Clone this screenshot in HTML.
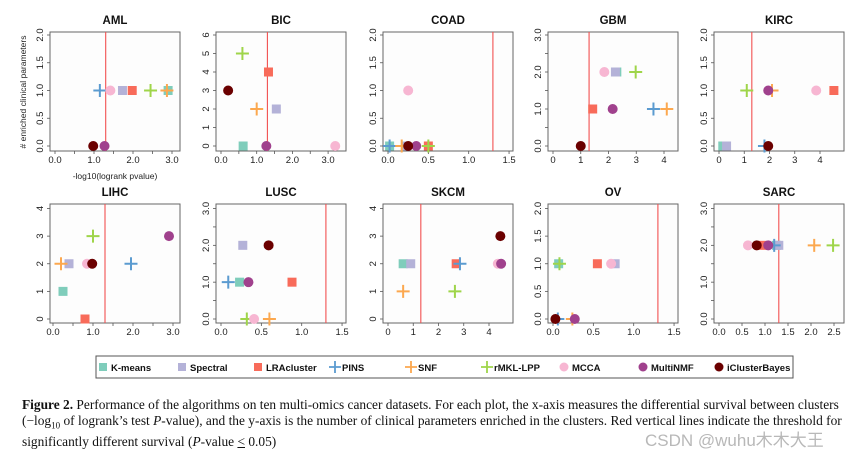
<!DOCTYPE html>
<html><head><meta charset="utf-8">
<style>
html,body{margin:0;padding:0;background:#fff;width:859px;height:456px;overflow:hidden}
svg{position:absolute;left:0;top:0}
.cap{position:absolute;left:22px;top:397px;width:830px;font-family:"Liberation Serif",serif;font-size:13.4px;line-height:15.6px;color:#111;white-space:nowrap}
.wm{position:absolute;left:645px;top:426px;font-family:"Liberation Sans","Noto Sans CJK SC",sans-serif;font-size:17px;color:#b8b8b8}
</style></head>
<body>
<svg id="fig" width="859" height="456"></svg>
<div class="cap"><b>Figure 2.</b> Performance of the algorithms on ten multi-omics cancer datasets. For each plot, the x-axis measures the differential survival between clusters<br>(−log<sub style="font-size:9px">10</sub> of logrank’s test <i>P</i>-value), and the y-axis is the number of clinical parameters enriched in the clusters. Red vertical lines indicate the threshold for<br>significantly different survival (<i>P</i>-value <u>&lt;</u> 0.05)</div>
<div class="wm">CSDN @wuhu木木大王</div>
<script>
const methods=["K-means","Spectral","LRAcluster","PINS","SNF","rMKL-LPP","MCCA","MultiNMF","iClusterBayes"];
const colors=["#7fcdbb","#b4b2d8","#f86b5a","#5b9bd0","#fca84f","#9fd54a","#f7b6d2","#a0418d","#6b0000"];
const shapes=["sq","sq","sq","plus","plus","plus","ci","ci","ci"];
const datasets=["AML","BIC","COAD","GBM","KIRC","LIHC","LUSC","SKCM","OV","SARC"];
const yMax=[2,6,2,3,2,4,3,4,2,3];
const xVals=[
[2.9,1.73,1.98,1.15,2.87,2.45,1.42,1.27,0.98],
[0.62,1.55,1.33,null,1.0,0.6,3.2,1.27,0.2],
[0.02,0.22,0.5,0.02,0.17,0.5,0.25,0.35,0.25],
[2.3,2.25,1.43,3.62,4.1,2.98,1.85,2.15,1.0],
[0.15,0.3,4.55,1.8,2.1,1.1,3.85,1.95,1.95],
[0.25,0.4,0.8,1.95,0.2,1.0,0.85,2.9,0.98],
[0.23,0.27,0.88,0.09,0.6,0.32,0.41,0.34,0.59],
[0.6,0.9,2.7,2.85,0.6,2.65,4.35,4.48,4.45],
[0.07,0.77,0.55,0.06,0.24,0.08,0.72,0.27,0.03],
[1.25,1.3,0.95,1.2,2.07,2.48,0.63,1.07,0.82]];
const yVals=[
[1,1,1,1,1,1,1,0,0],
[0,2,4,0,2,5,0,0,3],
[0,0,0,0,0,0,1,0,0],
[2,2,1,1,1,2,2,1,0],
[0,0,1,0,1,1,1,1,0],
[1,2,0,2,2,3,2,3,2],
[1,2,1,1,0,0,0,1,2],
[2,2,2,2,1,1,2,2,3],
[1,1,1,0,0,1,1,0,0],
[2,2,2,2,2,2,2,2,2]];
const xTickLabels=[
["0.0","1.0","2.0","3.0"],["0.0","1.0","2.0","3.0"],["0.0","0.5","1.0","1.5"],["0","1","2","3","4"],["0","1","2","3","4"],
["0.0","1.0","2.0","3.0"],["0.0","0.5","1.0","1.5"],["0","1","2","3","4"],["0.0","0.5","1.0","1.5"],["0.0","0.5","1.0","1.5","2.0","2.5"]];
const yTickLabels=[
["0.0","0.5","1.0","1.5","2.0"],["0","1","2","3","4","5","6"],["0.0","0.5","1.0","1.5","2.0"],["0.0","1.0","2.0","3.0"],["0.0","0.5","1.0","1.5","2.0"],
["0","1","2","3","4"],["0.0","1.0","2.0","3.0"],["0","1","2","3","4"],["0.0","0.5","1.0","1.5","2.0"],["0.0","1.0","2.0","3.0"]];
const threshold=1.3;
const boxL=[50,216,383,548,714,50,216,383,548,714];
const px0=[55,221,388,553,719,53,221,388,553,719];
const ppu=[39,35.7,80.7,27.75,25.25,40,80.7,25.25,80.7,46];
const NS="http://www.w3.org/2000/svg";
const svg=document.getElementById('fig');
function mk(t,a,p){const e=document.createElementNS(NS,t);for(const k in a)e.setAttribute(k,a[k]);(p||svg).appendChild(e);return e;}
function marker(g,s,c,x,y){
  if(s==="sq")return mk('rect',{x:x-4.5,y:y-4.5,width:9,height:9,fill:c},g);
  if(s==="ci")return mk('circle',{cx:x,cy:y,r:5,fill:c},g);
  return mk('path',{d:`M${x-6.5} ${y}H${x+6.5}M${x} ${y-6.5}V${y+6.5}`,stroke:c,'stroke-width':2,fill:'none'},g);
}
datasets.forEach((name,i)=>{
  const row=i<5?0:1;
  const top=row?204:32, bot=row?323:151;
  const yTop=row?208.5:35, y0=row?319:146;
  const L=boxL[i], R=L+130;
  const sx=v=>px0[i]+v*ppu[i];
  const sy=v=>y0-(v/yMax[i])*(y0-yTop);
  const g=mk('g',{});
  
  
  const t=mk('text',{x:(L+R)/2,y:row?196:24,'text-anchor':'middle','font-family':'Liberation Sans, sans-serif','font-size':11.5,'font-weight':'bold',fill:'#111'},g);
  t.textContent=name;
  
  
  mk('rect',{x:L,y:top,width:130,height:bot-top,fill:'#fdfdfd',stroke:'#666','stroke-width':1},g);
  const tl=mk('line',{x1:sx(threshold),x2:sx(threshold),y1:top,y2:bot,stroke:'#f25050','stroke-width':1.1},g);
  
  
  const xl=xTickLabels[i];
  const xstep=parseFloat(xl[1])-parseFloat(xl[0]);
  const minorX=(xl.length<=4&&xstep===1&&xl[0]==="0.0");
  const xMaxT=parseFloat(xl[xl.length-1]);
  for(let v=0;v<=xMaxT+1e-9;v+=(minorX?0.5:xstep)){
    mk('line',{x1:sx(v),x2:sx(v),y1:bot,y2:bot+3,stroke:'#555','stroke-width':0.8},g);
  }
  xl.forEach(l=>{const e=mk('text',{x:sx(parseFloat(l)),y:bot+12,'text-anchor':'middle','font-family':'Liberation Sans, sans-serif','font-size':9.5,fill:'#222'},g);e.textContent=l;});
  const yl=yTickLabels[i];
  const ystep=parseFloat(yl[1])-parseFloat(yl[0]);
  const minorY=(ystep===1&&yl[0]==="0.0");
  for(let v=0;v<=yMax[i]+1e-9;v+=(minorY?0.5:ystep)){
    mk('line',{x1:L-3,x2:L,y1:sy(v),y2:sy(v),stroke:'#555','stroke-width':0.8},g);
  }
  yl.forEach(l=>{const yy=sy(parseFloat(l));const e=mk('text',{x:L-7,y:yy,'text-anchor':'middle','font-family':'Liberation Sans, sans-serif','font-size':9.5,fill:'#222',transform:`rotate(-90 ${L-7} ${yy})`},g);e.textContent=l;});
  methods.forEach((m,j)=>{
    if(xVals[i][j]===null)return;
    const el=marker(g,shapes[j],colors[j],sx(xVals[i][j]),sy(yVals[i][j]));
    
    
  });
});
const yt=mk('text',{x:26,y:92,'text-anchor':'middle','font-family':'Liberation Sans, sans-serif','font-size':8.5,fill:'#222',transform:'rotate(-90 26 92)'});
yt.textContent='# enriched clinical parameters';


const xt=mk('text',{x:115,y:179,'text-anchor':'middle','font-family':'Liberation Sans, sans-serif','font-size':8.5,fill:'#222'});
xt.textContent='-log10(logrank pvalue)';


const lg=mk('g',{});


mk('rect',{x:96,y:356,width:697,height:22,fill:'#fff',stroke:'#555','stroke-width':1},lg);
const legX=[103,182,258,335,411,487,564,643,719];
methods.forEach((m,j)=>{
  const e=mk('g',{},lg);
  
  
  if(shapes[j]==="sq")mk('rect',{x:legX[j]-4,y:363,width:8,height:8,fill:colors[j]},e);
  else if(shapes[j]==="ci")mk('circle',{cx:legX[j],cy:367,r:4.5,fill:colors[j]},e);
  else mk('path',{d:`M${legX[j]-6} 367H${legX[j]+6}M${legX[j]} 361V373`,stroke:colors[j],'stroke-width':1.8},e);
  const t=mk('text',{x:legX[j]+(shapes[j]==="plus"?7:8),y:371,'font-family':'Liberation Sans, sans-serif','font-size':9.5,'font-weight':'bold',fill:'#111'},e);
  t.textContent=m;
});
</script>
</body></html>
